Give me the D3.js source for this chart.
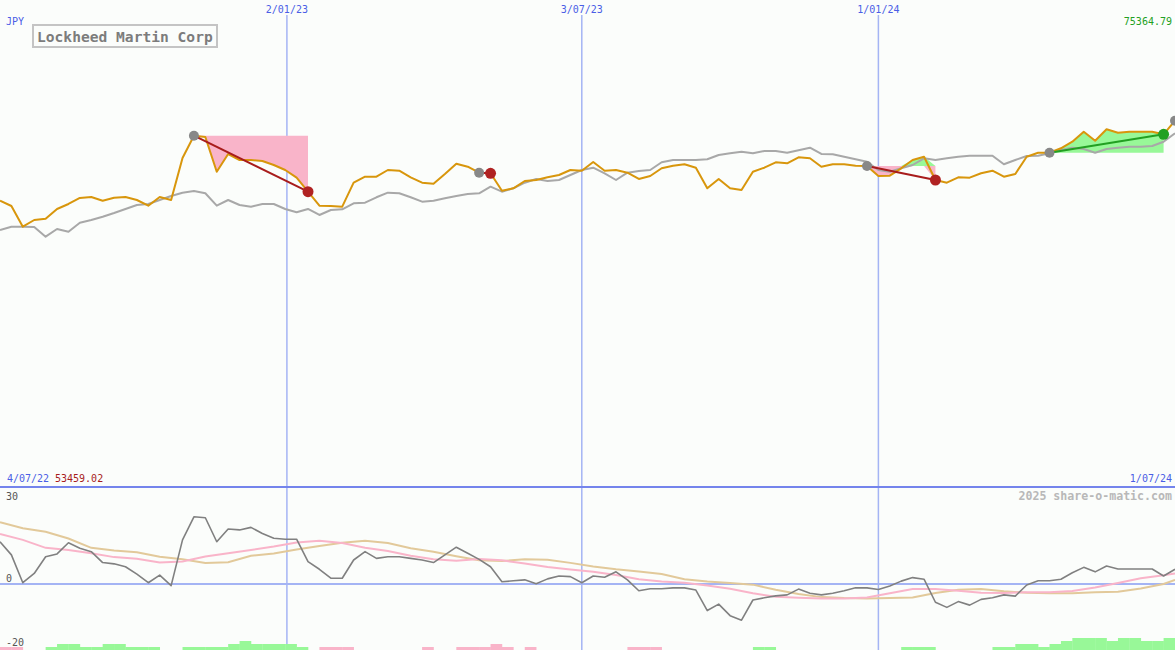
<!DOCTYPE html>
<html><head><meta charset="utf-8">
<script src="https://cdn.jsdelivr.net/npm/d3@7"></script>
<style>body{margin:0;background:#fbfdfb} svg{display:block}</style>
</head><body><svg id="c" width="1175" height="650"></svg>
<script>
// ---- data (weekly) ----
const title = "Lockheed Martin Corp";
const currency = "JPY";
const startDate = "4/07/22", endDate = "1/07/24";
const priceMin = 53459.02, priceMax = 75364.79;
const tickPos = [25.15, 51, 77];
const tickLabels = ["2/01/23", "3/07/23", "1/01/24"];
const indTicks = [30, 0, -20];

const price = [65580,65315,64280,64615,64680,65165,65415,65715,65765,65580,
 65730,65765,65615,65330,65765,65615,67715,68830,68765,67030,
 67915,67615,67615,67565,67365,67115,66730,66030,65330,65315,
 65280,66480,66780,66780,67115,67080,66750,66480,66430,66915,
 67430,67280,66980,66950,66080,66200,66565,66615,66750,66865,
 67115,67080,67515,67080,67115,66980,66665,66815,67200,67330,
 67400,67230,66200,66665,66200,66115,67030,67230,67500,67450,
 67750,67700,67280,67400,67400,67330,67315,66815,66830,67200,
 67615,67780,66615,66480,66750,66730,66950,67080,66780,66915,
 67780,67980,67980,68200,68530,69030,68580,69150,68980,69030,
 69030,69030,68900,69580];

const benchmark = [64115,64280,64280,64265,63780,64165,64030,64480,64615,64780,
 64965,65165,65365,65415,65615,65815,65980,66065,65950,65330,
 65615,65365,65280,65415,65415,65165,65000,65165,64865,65115,
 65150,65450,65480,65750,65980,65950,65750,65530,65580,65700,
 65815,65915,65950,66280,66030,66200,66480,66665,66565,66615,
 66865,67115,67230,66950,66615,66980,67065,67115,67500,67615,
 67615,67615,67650,67865,67950,68030,67950,68065,68065,67980,
 68100,68230,67915,67900,67780,67650,67530,67115,67030,67200,
 67365,67700,67615,67700,67780,67830,67830,67830,67400,67615,
 67815,67830,67950,68115,68230,68165,67980,68165,68230,68280,
 68280,68315,68530,68950];

const tradeStart = [17, 42, 76, 92];
const tradeEnd   = [27, 43, 82, 102];

const momentum = [13.2,9.1,0.4,3.3,8.5,9.4,12.9,11.2,10.1,6.7,
 6.3,5.4,3.1,0.4,2.8,-0.5,13.8,21.0,20.7,13.2,
 17.2,16.9,17.7,15.8,14.3,14.0,14.0,7.0,4.6,1.8,
 1.8,7.5,10.1,8.0,8.5,8.5,8.0,7.5,6.7,9.1,
 11.5,9.6,7.7,5.4,0.7,1.0,1.3,0.1,1.6,2.5,
 2.3,0.4,2.5,2.1,3.8,1.3,-2.1,-1.5,-1.5,-1.2,
 -1.2,-1.9,-8.3,-6.3,-9.9,-11.3,-5.0,-4.3,-3.7,-3.4,
 -1.6,-2.9,-3.4,-2.9,-2.1,-1.2,-1.2,-1.7,-0.6,0.9,
 2.0,1.5,-5.7,-7.3,-5.5,-6.6,-4.8,-4.3,-3.4,-3.8,
 -0.3,1.0,1.0,1.5,3.5,5.2,3.8,5.6,4.7,4.7,
 4.7,4.7,2.5,4.6];

const smoothIdx = [0,2,4,6,8,10,12,14,16,18,20,22,24,26,28,30,32,34,36,38,40,42,44,46,48,50,
 52,54,56,58,60,62,64,66,68,70,72,74,76,78,80,82,84,86,88,90,92,94,96,98,100,102,103];
const avgFast = [15.6,13.8,11.3,10.6,9.6,8.4,7.9,6.7,7.0,8.6,
 9.6,10.6,11.7,13.0,13.5,12.8,11.3,10.3,8.8,7.7,
 7.3,7.8,7.4,6.4,5.3,4.5,3.8,2.8,1.5,0.8,
 0.4,-0.5,-1.5,-2.9,-4.0,-4.3,-4.5,-4.5,-4.2,-2.9,
 -1.6,-1.6,-2.1,-2.7,-2.8,-2.6,-2.6,-2.2,-1.1,0.3,
 1.8,2.7,3.3];
const avgSlow = [19.3,17.4,16.3,14.2,11.3,10.5,9.9,8.5,7.7,6.6,
 6.8,8.8,9.5,10.8,11.9,12.9,13.5,12.8,11.2,10.1,
 8.7,7.4,7.2,7.7,7.6,6.6,5.5,4.6,3.9,3.1,
 1.5,0.8,0.3,-0.2,-1.8,-3.1,-4.1,-4.4,-4.5,-4.4,
 -4.2,-2.8,-1.8,-1.6,-2.3,-2.7,-2.9,-2.9,-2.6,-2.4,
 -1.4,0.0,1.3];

const strength = [-1,-1,0,0,1,2,2,1,1,2, 2,1,1,1,0,0,1,1,1,1,
 2,3,2,2,2,2,1,0,-1,-1, -1,0,0,0,0,0,0,-1,0,0,
 -1,-1,-1,-2,-1,0,-1,0,0,0, 0,0,0,0,0,-1,-1,-1,0,0,
 0,0,0,0,0,0,1,1,0,0, 0,0,0,0,0,0,0,0,0,1,
 1,1,0,0,0,0,0,1,1,2, 2,1,2,3,4,4,4,3,4,4,
 3,3,4,0];

// ---- drawing ----
const W = 1175, H = 650;
const C = {bg:"#fbfdfb", grid:"#a4b4f4", sep:"#7484ec", gold:"#d8960c", bench:"#a8a8a8",
  pink:"#f9b4c9", green:"#98f898", red:"#a81c1c", redDot:"#b02222", grn:"#22a022",
  gray:"#888888", mom:"#808080", tan:"#e2c99a", blue:"#4a5ee6"};
const svg = d3.select("#c");
svg.append("rect").attr("width", W).attr("height", H).attr("fill", C.bg);

const x = d3.scaleLinear().domain([0, price.length - 1]).range([0, W]);
const y = d3.scaleLinear().domain([priceMin, priceMax]).range([443.1, 5]);
const yi = d3.scaleLinear().domain([-20, 30]).range([648, 488]);
const barH = d3.scaleLinear().domain([0, 4]).range([0, 12]);
const mono = "'DejaVu Sans Mono', 'Liberation Mono', monospace";

// vertical date lines
svg.selectAll("line.vg").data(tickPos).join("line").attr("class", "vg")
  .attr("x1", d => x(d)).attr("x2", d => x(d)).attr("y1", 15).attr("y2", H)
  .attr("stroke", C.grid).attr("stroke-width", 1.5);
svg.selectAll("text.vt").data(tickPos).join("text").attr("class", "vt")
  .attr("x", d => x(d)).attr("y", 12.5).attr("text-anchor", "middle")
  .attr("font-family", mono).attr("font-size", 10).attr("fill", C.blue)
  .text((d, i) => tickLabels[i]);

// panel separator and zero line
svg.append("line").attr("x1", 0).attr("x2", W).attr("y1", 487).attr("y2", 487)
  .attr("stroke", C.sep).attr("stroke-width", 2);
svg.append("line").attr("x1", 0).attr("x2", W).attr("y1", yi(0)).attr("y2", yi(0))
  .attr("stroke", C.grid).attr("stroke-width", 2);

// strength bars
const step = x(1) - x(0);
svg.selectAll("rect.sb").data(strength.map((v, i) => ({v, i})).filter(d => d.v !== 0))
  .join("rect").attr("class", "sb")
  .attr("x", d => x(d.i)).attr("width", step + 0.3)
  .attr("y", d => H - barH(Math.abs(d.v))).attr("height", d => barH(Math.abs(d.v)))
  .attr("fill", d => d.v > 0 ? C.green : C.pink);

// trade fills
tradeStart.forEach((s, k) => {
  const e = tradeEnd[k];
  const base = price[s];
  const pts = d3.range(s, e + 1);
  const below = d3.area().x(i => x(i)).y0(y(base)).y1(i => y(Math.min(price[i], base)));
  const above = d3.area().x(i => x(i)).y0(y(base)).y1(i => y(Math.max(price[i], base)));
  svg.append("path").attr("d", below(pts)).attr("fill", C.pink);
  svg.append("path").attr("d", above(pts)).attr("fill", C.green);
});

// price lines
const pl = d3.line().x((d, i) => x(i)).y(d => y(d));
svg.append("path").attr("d", pl(benchmark)).attr("fill", "none")
  .attr("stroke", C.bench).attr("stroke-width", 2).attr("stroke-linejoin", "round");
svg.append("path").attr("d", pl(price)).attr("fill", "none")
  .attr("stroke", C.gold).attr("stroke-width", 2).attr("stroke-linejoin", "round");

// trend lines + dots
tradeStart.forEach((s, k) => {
  const e = tradeEnd[k];
  const up = price[e] > price[s];
  svg.append("line").attr("x1", x(s)).attr("y1", y(price[s])).attr("x2", x(e)).attr("y2", y(price[e]))
    .attr("stroke", up ? C.grn : C.red).attr("stroke-width", 2);
  svg.append("circle").attr("cx", x(s)).attr("cy", y(price[s])).attr("r", 5).attr("fill", C.gray);
  svg.append("circle").attr("cx", x(e)).attr("cy", y(price[e])).attr("r", 5.5)
    .attr("fill", up ? C.grn : C.redDot);
});
const last = price.length - 1;
svg.append("circle").attr("cx", x(last)).attr("cy", y(price[last])).attr("r", 5).attr("fill", C.gray);

// indicator lines
const sl = d3.line().x((d, i) => x(smoothIdx[i])).y(d => yi(d));
svg.append("path").attr("d", sl(avgSlow)).attr("fill", "none").attr("stroke", C.tan).attr("stroke-width", 2);
svg.append("path").attr("d", sl(avgFast)).attr("fill", "none").attr("stroke", C.pink).attr("stroke-width", 2);
svg.append("path").attr("d", d3.line().x((d, i) => x(i)).y(d => yi(d))(momentum))
  .attr("fill", "none").attr("stroke", C.mom).attr("stroke-width", 1.6).attr("stroke-linejoin", "round");

// indicator tick labels
svg.selectAll("text.it").data(indTicks).join("text").attr("class", "it")
  .attr("x", 6).attr("y", d => d === 30 ? yi(d) + 12 : yi(d) - 2)
  .attr("font-family", mono).attr("font-size", 10).attr("fill", "#555")
  .text(d => d);

// texts
const txt = (t, xx, yy, col, opts = {}) => svg.append("text").attr("x", xx).attr("y", yy)
  .attr("font-family", mono).attr("font-size", opts.size || 10).attr("fill", col)
  .attr("text-anchor", opts.anchor || "start").attr("font-weight", opts.weight || "normal").text(t);
txt(currency, 6, 25, C.blue);
txt(priceMax.toFixed(2), 1172, 25, C.grn, {anchor: "end"});
txt(startDate, 7, 482, C.blue);
txt(priceMin.toFixed(2), 55, 482, C.red);
txt(endDate, 1172, 482, C.blue, {anchor: "end"});
txt("2025 share-o-matic.com", 1172, 500, "#b8b8b8", {anchor: "end", size: 11.6, weight: "bold"});

svg.append("rect").attr("x", 33).attr("y", 25).attr("width", 184).attr("height", 22)
  .attr("fill", "none").attr("stroke", "#c4c4c4").attr("stroke-width", 2);
txt(title, 37, 41.5, "#7c7c7c", {size: 14.6, weight: "bold"});
</script></body></html>
